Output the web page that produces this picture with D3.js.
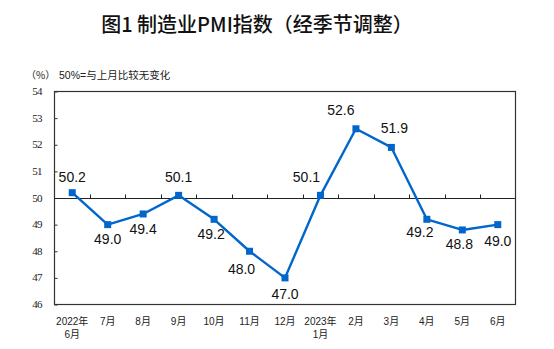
<!DOCTYPE html>
<html>
<head>
<meta charset="utf-8">
<script src="https://cdn.jsdelivr.net/npm/d3@7"></script>
<style>
  html, body { margin: 0; padding: 0; background: #fff; }
  svg { display: block; }
</style>
</head>
<body>
<svg id="chart" width="554" height="349"></svg>
<script>
const categories = ["2022年\n6月", "7月", "8月", "9月", "10月", "11月", "12月", "2023年\n1月", "2月", "3月", "4月", "5月", "6月"];
const pmiValues = [50.2, 49.0, 49.4, 50.1, 49.2, 48.0, 47.0, 50.1, 52.6, 51.9, 49.2, 48.8, 49.0];
const yTickValues = [46, 47, 48, 49, 50, 51, 52, 53, 54];
const titleText = "图1 制造业PMI指数（经季节调整）";
const unitText = "（%）";
const noteText = "50%=与上月比较无变化";
// label placement: [dx, dy] relative to point
const labelOffsets = [[0,-11],[0,19],[0,20],[0,-13],[-3,20],[-8,23],[0,21],[-14,-13],[-15,-14],[3,-14],[-7,18],[-3,19],[0,21]];

const svg = d3.select("#chart");
const m = { left: 54.5, right: 515.5, top: 91.5, bottom: 304.5 };
const blue = "#0066cc";

const x = d3.scaleBand().domain(categories).range([m.left, m.right]).padding(0);
const y = d3.scaleLinear().domain([46, 54]).range([m.bottom, m.top]);

// Title
svg.append("text")
  .attr("x", 257).attr("y", 32)
  .attr("text-anchor", "middle")
  .attr("font-family", "'Noto Sans CJK SC', sans-serif")
  .attr("font-weight", 500)
  .attr("font-size", 20)
  .attr("fill", "#111")
  .text(titleText);

svg.append("text")
  .attr("x", 26).attr("y", 79)
  .attr("font-family", "'Noto Sans CJK SC', sans-serif")
  .attr("font-size", 10)
  .attr("fill", "#222")
  .text(unitText);

svg.append("text")
  .attr("x", 59).attr("y", 79)
  .attr("font-family", "'Liberation Sans', 'Noto Sans CJK SC', sans-serif")
  .attr("font-size", 10.5)
  .attr("fill", "#222")
  .text(noteText);

// Frame
svg.append("rect")
  .attr("x", m.left).attr("y", m.top)
  .attr("width", m.right - m.left).attr("height", m.bottom - m.top)
  .attr("fill", "none").attr("stroke", "#333").attr("stroke-width", 1.2);

// Y axis (inward ticks)
const yAxis = d3.axisRight(y).tickValues(yTickValues).tickSize(3).tickFormat("");
const gy = svg.append("g").attr("transform", `translate(${m.left},0)`).call(yAxis);
gy.select(".domain").remove();
gy.selectAll("line").attr("stroke", "#333");

svg.append("g").selectAll("text").data(yTickValues).join("text")
  .attr("x", 42).attr("y", d => y(d) + 3.5)
  .attr("text-anchor", "end")
  .attr("font-family", "'Liberation Serif', serif")
  .attr("font-size", 11)
  .attr("letter-spacing", -0.6)
  .attr("fill", "#222")
  .text(d => d);

// X axis at 50 line with upward ticks at band boundaries
const y50 = Math.round(y(50)) + 0.5;
svg.append("line")
  .attr("x1", m.left).attr("x2", m.right)
  .attr("y1", y50).attr("y2", y50)
  .attr("stroke", "#222").attr("stroke-width", 1.2);
const boundaries = categories.slice(1).map(c => x(c));
svg.append("g").selectAll("line").data(boundaries).join("line")
  .attr("x1", d => Math.round(d) + 0.5).attr("x2", d => Math.round(d) + 0.5)
  .attr("y1", y50).attr("y2", y50 - 4)
  .attr("stroke", "#222").attr("stroke-width", 1);

// X labels
const xl = svg.append("g").selectAll("text").data(categories).join("text")
  .attr("text-anchor", "middle")
  .attr("font-family", "'Liberation Sans', 'Noto Sans CJK SC', sans-serif")
  .attr("font-size", 10)
  .attr("fill", "#222");
xl.each(function(d) {
  const cx = x(d) + x.bandwidth() / 2;
  const lines = d.split("\n");
  const t = d3.select(this);
  lines.forEach((ln, i) => {
    t.append("tspan").attr("x", cx).attr("y", 325 + i * 12.5).text(ln);
  });
});

// Line
const cxOf = (d, i) => x(categories[i]) + x.bandwidth() / 2;
const line = d3.line().x((d, i) => cxOf(d, i)).y(d => y(d));
svg.append("path").datum(pmiValues)
  .attr("d", line)
  .attr("fill", "none")
  .attr("stroke", blue)
  .attr("stroke-width", 2.4)
  .attr("stroke-linejoin", "round");

// Markers
svg.append("g").selectAll("rect").data(pmiValues).join("rect")
  .attr("x", (d, i) => cxOf(d, i) - 3.5)
  .attr("y", d => y(d) - 3.5)
  .attr("width", 7).attr("height", 7)
  .attr("fill", blue);

// Data labels
svg.append("g").selectAll("text").data(pmiValues).join("text")
  .attr("x", (d, i) => cxOf(d, i) + labelOffsets[i][0])
  .attr("y", (d, i) => y(d) + labelOffsets[i][1])
  .attr("text-anchor", "middle")
  .attr("font-family", "'Liberation Sans', Arial, sans-serif")
  .attr("font-size", 14)
  .attr("fill", "#111")
  .text(d => d.toFixed(1));
</script>
</body>
</html>
